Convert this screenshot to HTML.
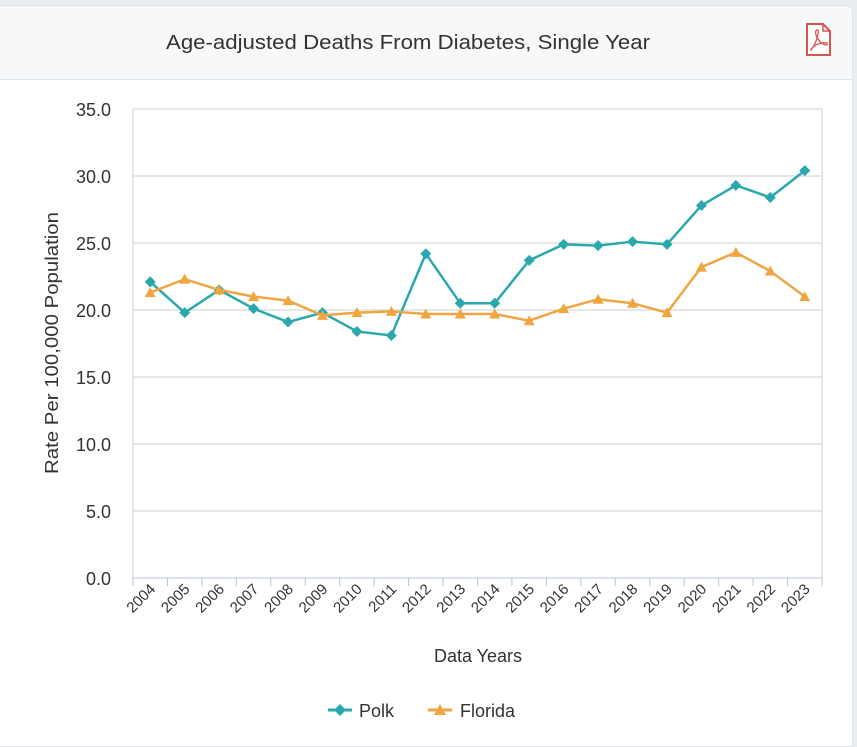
<!DOCTYPE html>
<html><head><meta charset="utf-8"><style>
html,body{margin:0;padding:0;background:#e9eef3;width:857px;height:739px;overflow:hidden;font-family:"Liberation Sans",sans-serif}
#card{position:absolute;left:0;top:5px;width:852px;height:740px;background:#fff;border:1px solid #dde3ea;border-left:none;border-radius:0 6px 0 0}
#hdr{position:absolute;left:0;top:0;width:852px;height:73px;background:#f7f8fa;border-bottom:1px solid #dde3ea;border-radius:0 6px 0 0}
</style></head><body>
<div id="card">
<div id="hdr"></div>
</div>
<svg id="chart" width="857" height="739" style="position:absolute;left:0;top:0">
<text x="408" y="49" text-anchor="middle" font-size="20" fill="#333" textLength="484" lengthAdjust="spacingAndGlyphs">Age-adjusted Deaths From Diabetes, Single Year</text>
<g>
<path d="M807 24 h16 l7 7 v24 h-23 z" fill="#fff" stroke="#d9534f" stroke-width="2"/>
<path d="M823 24 v7 h7" fill="none" stroke="#d9534f" stroke-width="1.5"/>
<path d="M811 50 q5 -6 7 -16 q1 -4 -1 -4 q-2 0 -1 5 q3 8 10 10 q2 0 1 -2 q-5 -1 -11 2 q-5 3 -5 5z" fill="none" stroke="#d9534f" stroke-width="1.3"/>
</g>
<g id="grid"></g><g id="ax"></g><g id="series"></g>
<text x="478" y="662" text-anchor="middle" font-size="18" fill="#333">Data Years</text>
<text transform="translate(58,343) rotate(-90)" text-anchor="middle" font-size="18" fill="#333" textLength="262" lengthAdjust="spacingAndGlyphs">Rate Per 100,000 Population</text>
<g>
<line x1="328" y1="710" x2="352" y2="710" stroke="#2aa8ae" stroke-width="3"/>
<path d="M340 704 l6 6 -6 6 -6 -6z" fill="#2aa8ae"/>
<text x="359" y="717" font-size="18" fill="#333">Polk</text></g>
<g>
<line x1="428" y1="710" x2="452" y2="710" stroke="#f0a640" stroke-width="3"/>
<path d="M440 704 l6 11 h-12z" fill="#f0a640"/>
<text x="460" y="717" font-size="18" fill="#333">Florida</text></g>
</svg>
<script>
const years=["2004","2005","2006","2007","2008","2009","2010","2011","2012","2013","2014","2015","2016","2017","2018","2019","2020","2021","2022","2023"];
const polk=[22.1,19.8,21.5,20.1,19.1,19.8,18.4,18.1,24.2,20.5,20.5,23.7,24.9,24.8,25.1,24.9,27.8,29.3,28.4,30.4];
const florida=[21.3,22.3,21.5,21.0,20.7,19.6,19.8,19.9,19.7,19.7,19.7,19.2,20.1,20.8,20.5,19.8,23.2,24.3,22.9,21.0];
const yTicks=[0,5,10,15,20,25,30,35];
const yTickLabels=["0.0","5.0","10.0","15.0","20.0","25.0","30.0","35.0"];
const L=133,R=822,T=109,B=578,NS="http://www.w3.org/2000/svg";
const bw=(R-L)/years.length;
const xs=i=>L+bw*(i+0.5), ys=v=>B-(v/35)*(B-T);
function mk(tag,at,parent){const e=document.createElementNS(NS,tag);for(const k in at)e.setAttribute(k,at[k]);document.getElementById(parent).appendChild(e);return e;}
const g=document.getElementById('grid');
yTicks.forEach((t,i)=>{
 const l=mk('line',{x1:L,x2:R,y1:ys(t),y2:ys(t),stroke:'#cfcfcf','stroke-width':1},'grid');
 
 
 const tx=mk('text',{x:111,y:ys(t)+7,'text-anchor':'end','font-size':18,fill:'#333'},'ax');
 tx.textContent=yTickLabels[i];
 
 
});
mk('line',{x1:L,x2:L,y1:T,y2:B,stroke:'#cfcfcf'},'grid');
mk('line',{x1:R,x2:R,y1:T,y2:B,stroke:'#cfcfcf'},'grid');
mk('line',{x1:L,x2:R,y1:B,y2:B,stroke:'#b9c4d6'},'ax');
for(let i=0;i<=years.length;i++)mk('line',{x1:L+bw*i,x2:L+bw*i,y1:B,y2:B+8,stroke:'#b9c4d6'},'ax');
years.forEach((y,i)=>{
 const tx=mk('text',{transform:`translate(${xs(i)+6},${B+12}) rotate(-45)`,'text-anchor':'end','font-size':15,fill:'#333'},'ax');
 tx.textContent=y;
 
 
});
function line(vals,color,name,marker){
 const p=mk('polyline',{points:vals.map((v,i)=>xs(i)+','+ys(v)).join(' '),fill:'none',stroke:color,'stroke-width':2.5},'series');
 
 
 vals.forEach((v,i)=>{
  const x=xs(i),y=ys(v);
  const d=marker==='d'?`M${x} ${y-5.5}l5.5 5.5-5.5 5.5-5.5-5.5z`:`M${x} ${y-5.5}l5.5 10h-11z`;
  const m=mk('path',{d:d,fill:color},'series');
  
  
 });
}
line(polk,'#2aa8ae','polk','d');
line(florida,'#f0a640','florida','t');
</script>
</body></html>
